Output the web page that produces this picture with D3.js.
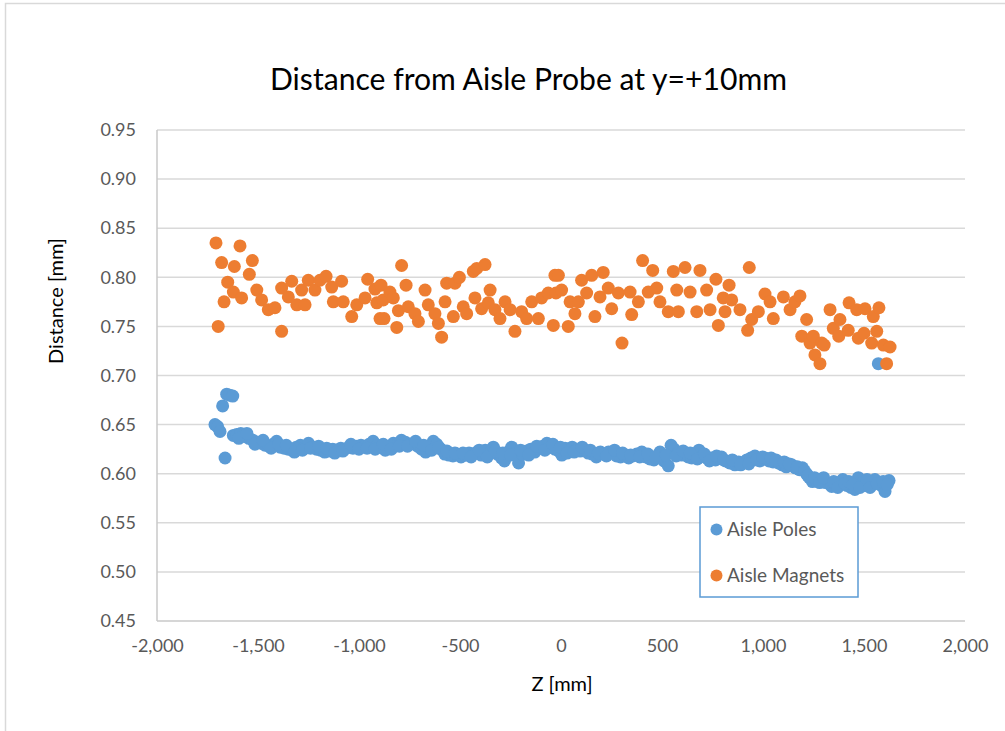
<!DOCTYPE html>
<html>
<head>
<meta charset="utf-8">
<script src="https://cdn.jsdelivr.net/npm/d3@7"></script>
<style>
  html, body { margin: 0; padding: 0; background: #fff; }
  svg { display: block; }
  text { font-family: Lato, "Noto Sans", sans-serif; }
</style>
</head>
<body>
<svg id="chart" width="1005" height="731"></svg>
<script>
// ---------------- DATA ----------------
const chartTitle = "Distance from Aisle Probe at y=+10mm";
const xTitle = "Z [mm]";
const yTitle = "Distance [mm]";
const seriesNames = ["Aisle Poles", "Aisle Magnets"];
const xTicks = [-2000, -1500, -1000, -500, 0, 500, 1000, 1500, 2000];
const yTicks = [0.45, 0.50, 0.55, 0.60, 0.65, 0.70, 0.75, 0.80, 0.85, 0.90, 0.95];

// Aisle Poles: [Z, distance]
const polesData = [
  [-1713,0.650],[-1700,0.648],[-1688,0.643],[-1675,0.669],[-1663,0.616],[-1655,0.681],[-1640,0.680],[-1625,0.679],[-1622,0.639],
  [-1605,0.640],[-1585,0.641],[-1565,0.638],[-1545,0.636],[-1525,0.634],[-1505,0.632],[-1485,0.631],[-1465,0.629],[-1445,0.628],
  [-1425,0.630],[-1408,0.633],[-1390,0.627],[-1370,0.626],[-1350,0.625],[-1330,0.624],[-1310,0.627],[-1290,0.629],[-1270,0.626],
  [-1250,0.631],[-1230,0.627],[-1210,0.625],[-1190,0.624],[-1170,0.622],[-1150,0.623],[-1130,0.625],[-1110,0.624],[-1090,0.626],
  [-1070,0.625],[-1050,0.627],[-1030,0.626],[-1010,0.628],[-990,0.629],[-970,0.628],[-950,0.630],[-930,0.633],[-910,0.629],
  [-890,0.627],[-870,0.624],[-850,0.628],[-830,0.631],[-810,0.630],[-790,0.634],[-770,0.632],[-750,0.630],[-730,0.631],
  [-710,0.628],[-690,0.625],[-670,0.622],[-650,0.628],[-632,0.633],[-615,0.630],[-595,0.625],[-575,0.620],[-555,0.619],
  [-535,0.618],[-515,0.620],[-495,0.617],[-475,0.619],[-455,0.621],[-435,0.620],[-415,0.622],[-395,0.619],[-375,0.624],
  [-355,0.621],[-335,0.627],[-315,0.620],[-295,0.616],[-280,0.613],[-262,0.622],[-244,0.627],[-225,0.621],[-210,0.611],
  [-190,0.620],[-170,0.623],[-150,0.625],[-130,0.622],[-110,0.626],[-90,0.628],[-70,0.631],[-50,0.627],[-30,0.625],
  [-10,0.623],[4,0.619],[20,0.626],[38,0.624],[55,0.627],[75,0.624],[95,0.623],[115,0.624],[135,0.621],[155,0.620],
  [175,0.617],[195,0.622],[215,0.620],[235,0.622],[255,0.621],[275,0.618],[295,0.617],[315,0.619],[335,0.616],[355,0.618],
  [375,0.620],[400,0.622],[420,0.617],[440,0.615],[460,0.614],[475,0.618],[490,0.622],[510,0.613],[531,0.608],[545,0.629],
  [560,0.625],[580,0.621],[597,0.619],[615,0.620],[630,0.617],[647,0.616],[665,0.618],[683,0.624],[700,0.618],[720,0.616],
  [746,0.616],[765,0.614],[780,0.617],[795,0.617],[815,0.613],[835,0.611],[861,0.609],[880,0.612],[900,0.611],[920,0.614],
  [940,0.616],[960,0.618],[985,0.613],[1010,0.616],[1030,0.613],[1050,0.612],[1076,0.611],[1095,0.609],[1115,0.607],
  [1142,0.609],[1160,0.606],[1180,0.604],[1195,0.606],[1215,0.600],[1230,0.596],[1245,0.592],[1265,0.593],[1290,0.594],
  [1310,0.591],[1325,0.590],[1340,0.587],[1360,0.589],[1380,0.591],[1395,0.594],[1415,0.588],[1435,0.586],[1455,0.584],
  [1472,0.596],[1490,0.590],[1505,0.588],[1521,0.591],[1540,0.589],[1554,0.594],[1571,0.712],[1585,0.588],[1604,0.582],[1624,0.593],
  [-1595,0.636],[-1555,0.641],[-1515,0.630],[-1475,0.634],[-1435,0.626],[-1398,0.630],[-1360,0.629],[-1320,0.622],[-1280,0.624],
  [-1240,0.626],[-1200,0.628],[-1160,0.626],[-1120,0.621],[-1080,0.623],[-1040,0.630],[-1000,0.625],[-960,0.626],[-920,0.625],
  [-880,0.630],[-840,0.625],[-800,0.628],[-760,0.628],[-720,0.633],[-680,0.629],[-640,0.624],[-605,0.627],[-565,0.623],
  [-525,0.621],[-485,0.621],[-445,0.617],[-405,0.624],[-365,0.617],[-325,0.623],[-288,0.621],[-250,0.619],[-200,0.624],
  [-160,0.619],[-120,0.628],[-80,0.624],[-40,0.630],[-3,0.627],[30,0.621],[65,0.622],[105,0.627],[145,0.624],[185,0.621],
  [225,0.618],[265,0.624],[305,0.621],[345,0.619],[390,0.617],[430,0.620],[468,0.617],[520,0.619],[570,0.618],[605,0.623],
  [640,0.621],[675,0.615],[710,0.620],[735,0.613],[770,0.618],[805,0.614],[848,0.614],[890,0.609],[930,0.610],[970,0.614],
  [998,0.617],[1040,0.616],[1064,0.614],[1105,0.612],[1130,0.610],[1170,0.607],[1205,0.603],[1222,0.598],[1255,0.596],
  [1280,0.591],[1300,0.596],[1350,0.592],[1370,0.586],[1405,0.590],[1425,0.592],[1445,0.589],[1480,0.586],[1515,0.594],
  [1530,0.586],[1565,0.590],[1595,0.592],[1615,0.589]
];

// Aisle Magnets: [Z, distance]
const magnetsData = [
  [-1708,0.835],[-1697,0.750],[-1680,0.815],[-1668,0.775],[-1650,0.795],[-1622,0.785],[-1617,0.811],[-1589,0.832],
  [-1581,0.779],[-1543,0.803],[-1528,0.817],[-1506,0.787],[-1482,0.777],[-1449,0.767],[-1416,0.769],[-1383,0.789],
  [-1383,0.745],[-1350,0.780],[-1333,0.796],[-1308,0.772],[-1284,0.787],[-1267,0.772],[-1251,0.797],[-1218,0.787],
  [-1193,0.797],[-1163,0.801],[-1135,0.790],[-1127,0.775],[-1086,0.796],[-1078,0.775],[-1036,0.760],[-1011,0.772],
  [-970,0.779],[-957,0.798],[-921,0.788],[-912,0.774],[-896,0.758],[-891,0.792],[-880,0.777],[-876,0.758],[-847,0.785],
  [-830,0.779],[-813,0.749],[-805,0.766],[-789,0.812],[-767,0.792],[-756,0.770],[-723,0.763],[-706,0.755],[-673,0.787],
  [-657,0.772],[-624,0.763],[-607,0.753],[-591,0.739],[-574,0.775],[-566,0.794],[-533,0.760],[-525,0.794],[-503,0.800],
  [-484,0.770],[-467,0.763],[-434,0.806],[-426,0.779],[-417,0.809],[-393,0.768],[-376,0.813],[-360,0.774],[-351,0.787],
  [-327,0.767],[-302,0.758],[-277,0.775],[-252,0.767],[-228,0.745],[-195,0.765],[-170,0.758],[-145,0.775],[-112,0.758],
  [-96,0.779],[-63,0.784],[-38,0.751],[-30,0.802],[-13,0.802],[-25,0.784],[3,0.787],[36,0.750],[45,0.775],[69,0.763],
  [86,0.775],[102,0.797],[127,0.784],[152,0.802],[168,0.760],[193,0.780],[209,0.805],[234,0.789],[251,0.768],[284,0.784],
  [302,0.733],[342,0.785],[350,0.762],[383,0.775],[404,0.817],[432,0.785],[454,0.807],[474,0.789],[490,0.775],[531,0.765],
  [556,0.806],[573,0.787],[581,0.765],[614,0.810],[639,0.785],[672,0.765],[688,0.807],[721,0.787],[738,0.767],[767,0.798],
  [779,0.751],[803,0.779],[812,0.765],[832,0.792],[845,0.777],[886,0.767],[924,0.746],[932,0.810],[944,0.757],[977,0.765],
  [1010,0.783],[1035,0.775],[1051,0.758],[1101,0.780],[1134,0.767],[1158,0.775],[1183,0.781],[1192,0.740],[1216,0.757],
  [1233,0.733],[1249,0.740],[1257,0.721],[1282,0.712],[1291,0.733],[1303,0.731],[1332,0.767],[1348,0.748],[1375,0.740],
  [1381,0.757],[1422,0.746],[1426,0.774],[1464,0.767],[1472,0.738],[1500,0.743],[1505,0.768],[1538,0.733],[1546,0.760],
  [1563,0.745],[1574,0.769],[1596,0.731],[1612,0.712],[1629,0.729]
];

const colors = ["#5b9bd5", "#ed7d31"];

// ---------------- CHART ----------------
const svg = d3.select("#chart");

// chart area border
svg.append("rect")
  .attr("x", 5.5).attr("y", 3.5).attr("width", 1020).attr("height", 760)
  .attr("fill", "#fff").attr("stroke", "#d9d9d9").attr("stroke-width", 1.5);

const plot = { left: 157, right: 965, top: 130, bottom: 621 };
const x = d3.scaleLinear().domain([-2000, 2000]).range([plot.left, plot.right]);
const y = d3.scaleLinear().domain([0.45, 0.95]).range([plot.bottom, plot.top]);

// gridlines
svg.append("g")
  .selectAll("line").data(yTicks.slice(1)).join("line")
  .attr("x1", plot.left).attr("x2", plot.right)
  .attr("y1", d => y(d)).attr("y2", d => y(d))
  .attr("stroke", "#d9d9d9").attr("stroke-width", 1.5);

// axis lines
svg.append("line")
  .attr("x1", plot.left).attr("x2", plot.right)
  .attr("y1", y(0.45)).attr("y2", y(0.45))
  .attr("stroke", "#c9c9c9").attr("stroke-width", 1.5);
svg.append("line")
  .attr("x1", plot.left).attr("x2", plot.left)
  .attr("y1", y(0.95)).attr("y2", y(0.45))
  .attr("stroke", "#c9c9c9").attr("stroke-width", 1.5);

// y axis
const yAxis = d3.axisLeft(y).tickValues(yTicks).tickFormat(d3.format(".2f")).tickSize(0).tickPadding(21);
const gy = svg.append("g").attr("transform", `translate(${plot.left},0)`).call(yAxis);
gy.select(".domain").remove();
gy.selectAll("text").attr("font-size", 18).attr("fill", "#595959").attr("font-family", "Lato");

// x axis
const fmtX = d3.format(",");
const xAxis = d3.axisBottom(x).tickValues(xTicks)
  .tickFormat(d => fmtX(d).replace("\u2212", "-")).tickSize(0).tickPadding(18);
const gx = svg.append("g").attr("transform", `translate(0,${plot.bottom})`).call(xAxis);
gx.select(".domain").remove();
gx.selectAll("text").attr("font-size", 18).attr("fill", "#595959").attr("font-family", "Lato");

// series
const r = 6.5;
svg.append("g").selectAll("circle").data(polesData).join("circle")
  .attr("cx", d => x(d[0])).attr("cy", d => y(d[1])).attr("r", r)
  .attr("fill", colors[0]);
svg.append("g").selectAll("circle").data(magnetsData).join("circle")
  .attr("cx", d => x(d[0])).attr("cy", d => y(d[1])).attr("r", r)
  .attr("fill", colors[1]);

// title
const t = svg.append("text")
  .attr("x", 528.5).attr("y", 90).attr("text-anchor", "middle")
  .attr("font-size", 29).attr("fill", "#000").text(chartTitle);
const tw = t.node().getComputedTextLength();
if (tw > 0) t.attr("font-size", 29 * 517 / tw);

// axis titles
svg.append("text")
  .attr("x", 562).attr("y", 691).attr("text-anchor", "middle")
  .attr("font-size", 20).attr("fill", "#000").text(xTitle);
svg.append("text")
  .attr("transform", "translate(63,301) rotate(-90)")
  .attr("text-anchor", "middle")
  .attr("font-size", 20).attr("fill", "#000").text(yTitle);

// legend
const lg = svg.append("g");
lg.append("rect")
  .attr("x", 700).attr("y", 507).attr("width", 158).attr("height", 90)
  .attr("fill", "#fff").attr("stroke", "#5b9bd5").attr("stroke-width", 1.5);
const legendY = [529.5, 575.5];
seriesNames.forEach((name, i) => {
  lg.append("circle").attr("cx", 716.5).attr("cy", legendY[i]).attr("r", 6).attr("fill", colors[i]);
  lg.append("text").attr("x", 727).attr("y", legendY[i]).attr("dy", "0.35em")
    .attr("font-size", 19).attr("fill", "#595959").text(name);
});
</script>
</body>
</html>
